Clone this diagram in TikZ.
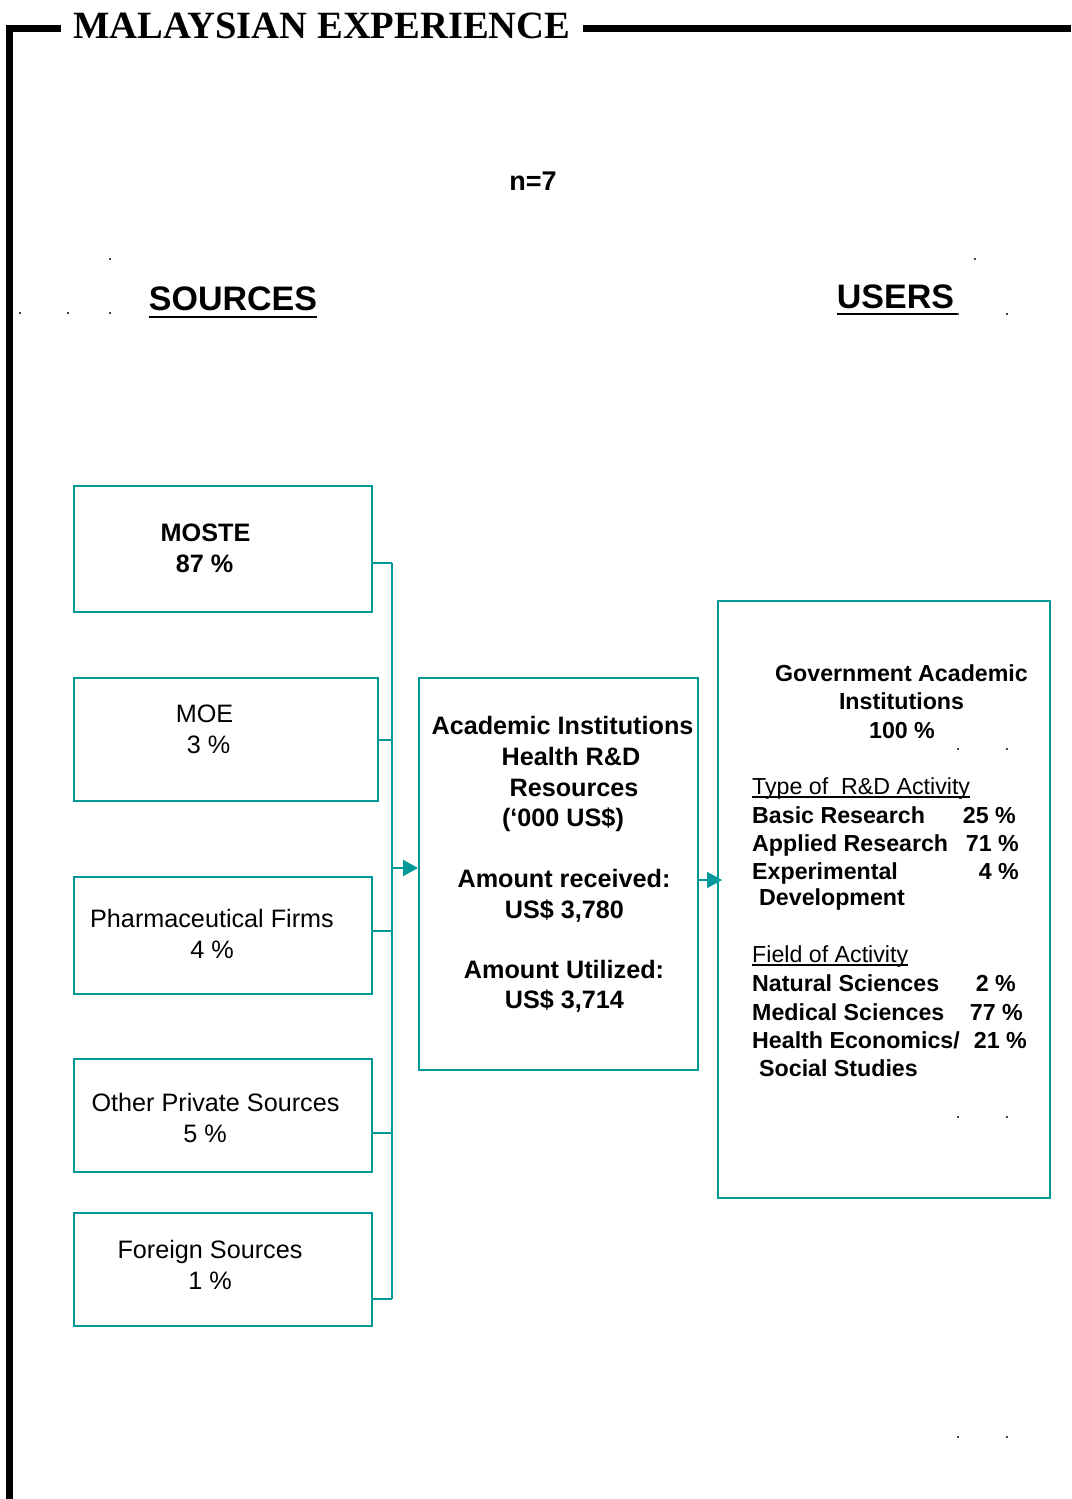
\documentclass[tikz,border=0pt]{standalone}
\usepackage{fontspec}
\setmainfont{Liberation Sans}
\newfontfamily\titlefont{Liberation Serif}
\usetikzlibrary{arrows.meta}
\definecolor{tealline}{RGB}{0,153,153}
\newcommand\fs[1]{\fontsize{#1}{#1}\selectfont}
\begin{document}
\begin{tikzpicture}[x=1pt,y=-1pt,
  box/.style={draw=tealline, line width=2pt, inner sep=0pt, anchor=north west},
  conn/.style={draw=tealline, line width=2pt},
  tip/.style={-{Triangle[length=15pt,width=16pt]}, tealline},
  frame/.style={line width=7pt, line join=miter},
  t25/.style={inner sep=0pt, anchor=base, font=\fs{25.2}},
  b25/.style={inner sep=0pt, anchor=base, font=\bfseries\fs{25.2}},
  t23/.style={inner sep=0pt, anchor=base west, font=\fs{23.2}},
  b23/.style={inner sep=0pt, anchor=base west, font=\bfseries\fs{23.2}},
  p23/.style={inner sep=0pt, anchor=base east, font=\bfseries\fs{23.2}},
  speck/.style={fill=black}]
\useasboundingbox (0,0) rectangle (1071,1499);

% heading and frame
\node[inner sep=0pt, anchor=base west, font=\titlefont\bfseries\fs{38.6}] (title) at (73,38) {MALAYSIAN EXPERIENCE};
\draw[frame] (61,28) -- (9.5,28) -- (9.5,1499);
\draw[frame] (583,28) -- (1071,28);

\node[inner sep=0pt, anchor=base, font=\bfseries\fs{27}] (n) at (533,190) {n=7};

\node[inner sep=0pt, anchor=base, font=\bfseries\fs{34}] (src) at (233,310) {SOURCES};
\draw[line width=2.5pt] ([yshift=-7pt]src.base west) -- ([yshift=-7pt]src.base east);
\node[inner sep=0pt, anchor=base, font=\bfseries\fs{34}] (usr) at (895.5,308) {USERS};
\draw[line width=2.5pt] ([yshift=-6pt]usr.base west) -- ([yshift=-6pt,xshift=3pt]usr.base east);

% small specks
\foreach \p in {(110,259),(20,313),(68,313),(110,313),(975,259),(958,314),(1007,314),
                (958,749),(1007,749),(958,1117),(1007,1117),(958,1437),(1007,1437)}
  \fill[speck] \p circle (1.1pt);

% source boxes
\node[box, minimum width=298pt, minimum height=126pt] (moste) at (73,485) {};
\node[box, minimum width=304pt, minimum height=123pt] (moe) at (73,677) {};
\node[box, minimum width=298pt, minimum height=117pt] (pharma) at (73,876) {};
\node[box, minimum width=298pt, minimum height=113pt] (other) at (73,1058) {};
\node[box, minimum width=298pt, minimum height=113pt] (foreign) at (73,1212) {};

\node[b25] at (205.5,541) {MOSTE};
\node[b25] at (204.5,572) {87 \%};
\node[t25] at (204.5,722) {MOE};
\node[t25] at (208.5,753) {3 \%};
\node[t25] at (212,927) {Pharmaceutical Firms};
\node[t25] at (212,958) {4 \%};
\node[t25] at (215.5,1111) {Other Private Sources};
\node[t25] at (205,1142) {5 \%};
\node[t25] at (210,1258) {Foreign Sources};
\node[t25] at (210,1289) {1 \%};

% central box
\node[box, minimum width=279pt, minimum height=392pt] (acad) at (418,677) {};
\node[b25] at (562.5,734) {Academic Institutions};
\node[b25] at (571,765) {Health R\&D};
\node[b25] at (574,796) {Resources};
\node[b25] at (563,826) {(‘000 US\$)};
\node[b25] at (564,887) {Amount received:};
\node[b25] at (564.5,918) {US\$ 3,780};
\node[b25] at (564,978) {Amount Utilized:};
\node[b25] at (564.5,1008) {US\$ 3,714};

% users box
\node[box, minimum width=332pt, minimum height=597pt] (gov) at (717,600) {};
\node[b23, anchor=base] at (901.5,681) {Government Academic};
\node[b23, anchor=base] at (901.5,709) {Institutions};
\node[b23, anchor=base] at (902,738) {100 \%};

\node[t23] (rdhead) at (752,794) {Type of\ \ R\&D Activity};
\draw[line width=1.5pt] ([yshift=-3pt]rdhead.base west) -- ([yshift=-3pt]rdhead.base east);
\node[b23] at (752,823) {Basic Research};      \node[p23] at (1016,823) {25 \%};
\node[b23] at (752,851) {Applied Research};    \node[p23] at (1019,851) {71 \%};
\node[b23] at (752,879) {Experimental};        \node[p23] at (1019,879) {4 \%};
\node[b23] at (759,905) {Development};

\node[t23] (fldhead) at (752,962) {Field of Activity};
\draw[line width=1.5pt] ([yshift=-3pt]fldhead.base west) -- ([yshift=-3pt]fldhead.base east);
\node[b23] at (752,991) {Natural Sciences};    \node[p23] at (1016,991) {2 \%};
\node[b23] at (752,1020) {Medical Sciences};   \node[p23] at (1023,1020) {77 \%};
\node[b23] at (752,1048) {Health Economics/};  \node[p23] at (1027,1048) {21 \%};
\node[b23] at (759,1076) {Social Studies};

% connectors
\coordinate (bustop) at (392,563);
\coordinate (busbot) at (392,1299);
\draw[conn] (bustop) -- (busbot);
\draw[conn] (moste.east |- bustop) -- (bustop);
\draw[conn] (moe.east |- 0,740) -- (bustop |- 0,740);
\draw[conn] (pharma.east |- 0,931) -- (bustop |- 0,931);
\draw[conn] (other.east |- 0,1133) -- (bustop |- 0,1133);
\draw[conn] (foreign.east |- busbot) -- (busbot);
\draw[conn, tip] (bustop |- 0,868) -- (acad.west |- 0,868);
\draw[conn, tip, shorten >=-5pt] (acad.east |- 0,880) -- (gov.west |- 0,880);
\end{tikzpicture}
\end{document}
